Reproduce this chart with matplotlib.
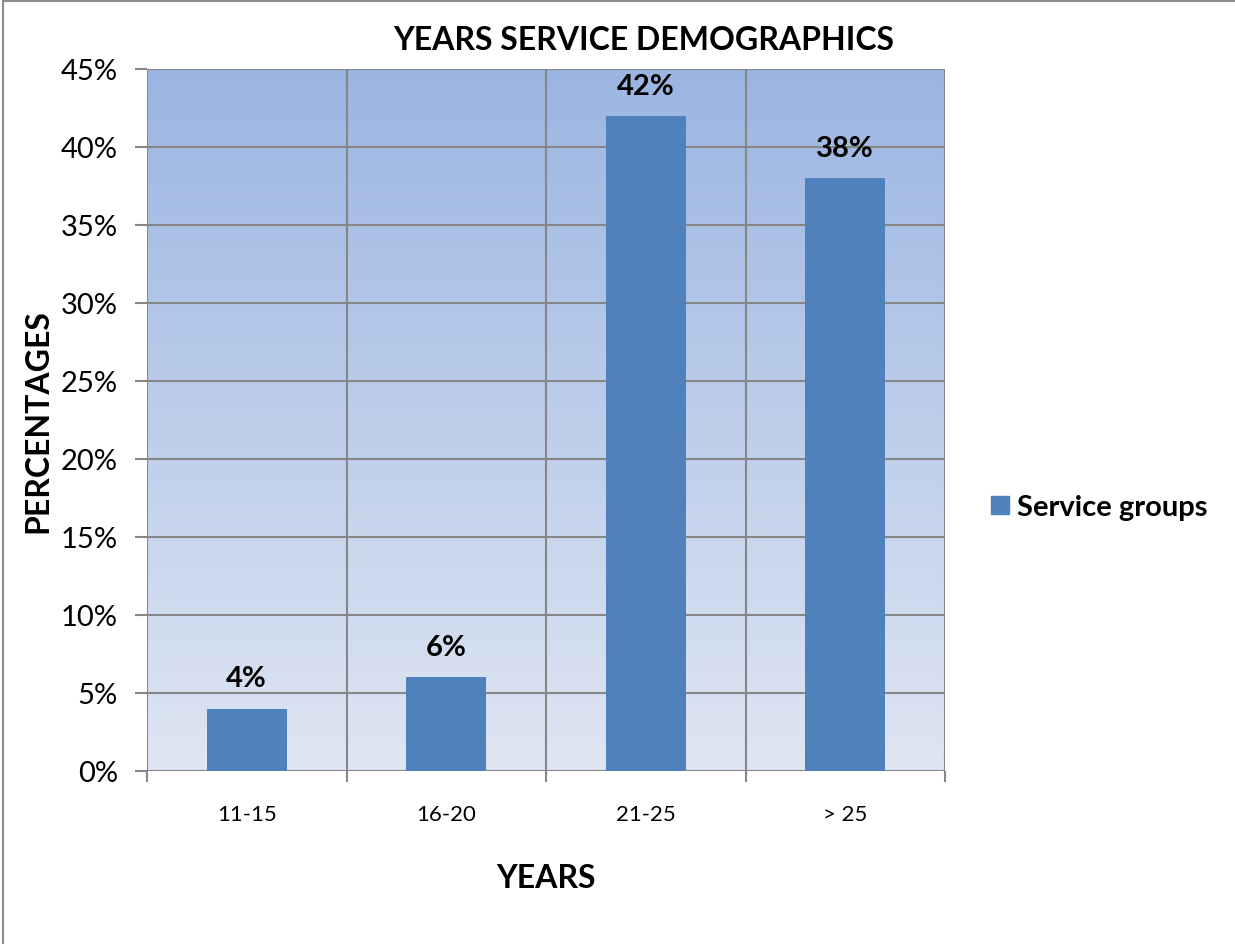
import numpy as np
import matplotlib.pyplot as plt
from matplotlib.colors import LinearSegmentedColormap
from matplotlib.lines import Line2D
from matplotlib.patches import Patch

plt.rcParams['font.family'] = ['Lato', 'DejaVu Sans']

categories = ['11-15', '16-20', '21-25', '> 25']
values = [4, 6, 42, 38]
yticks = [0, 5, 10, 15, 20, 25, 30, 35, 40, 45]

bar_color = '#4f81bd'
grid_color = '#868686'

fig = plt.figure(figsize=(12.35, 9.45), dpi=100)
ax = fig.add_axes([147 / 1235, 1 - 772 / 945, 798 / 1235, 702 / 945])

# gradient background of the plot area
cmap = LinearSegmentedColormap.from_list('bg', ['#dfe6f3', '#9bb5e2'])
grad = np.linspace(0, 1, 256).reshape(-1, 1)
ax.imshow(grad, aspect='auto', cmap=cmap, origin='lower',
          extent=[-0.5, len(categories) - 0.5, 0, 45], zorder=0)

x = np.arange(len(categories))
ax.bar(x, values, width=0.4, color=bar_color, zorder=3, label='Service groups')
for xi, v in zip(x, values):
    ax.text(xi, v + 1.1, '%d%%' % v, ha='center', va='bottom',
            fontsize=21, fontweight='bold', zorder=4)

ax.set_xlim(-0.5, len(categories) - 0.5)
ax.set_ylim(0, 45)
ax.set_yticks(yticks)
ax.set_yticklabels(['%d%%' % t for t in yticks], fontsize=21)
ax.tick_params(axis='y', length=9, width=1.5, color=grid_color, pad=12)

# category labels without ticks, ticks at boundaries
ax.set_xticks(x)
ax.set_xticklabels(categories, fontsize=16)
ax.tick_params(axis='x', length=0, pad=24)
ax.set_xticks(np.arange(len(categories) + 1) - 0.5, minor=True)
ax.tick_params(axis='x', which='minor', length=8, width=1.5, color=grid_color)

for t in yticks:
    ax.axhline(t, color=grid_color, lw=1.5, zorder=1)
for b in np.arange(len(categories) + 1) - 0.5:
    ax.axvline(b, color=grid_color, lw=1.5, zorder=1)
for s in ax.spines.values():
    s.set_visible(False)

fig.text(644 / 1235, 1 - 40 / 945, 'YEARS SERVICE DEMOGRAPHICS', ha='center',
         va='center', fontsize=23, fontweight='bold')
ax.set_xlabel('YEARS', fontsize=23, fontweight='bold', labelpad=28)
ax.set_ylabel('PERCENTAGES', fontsize=23, fontweight='bold', labelpad=6)

ax.legend(handles=[Patch(color=bar_color, label='Service groups')],
          loc='center left', bbox_to_anchor=(1.025, 0.376), frameon=False,
          prop={'size': 21, 'weight': 'bold'}, handlelength=0.6,
          handleheight=0.6, handletextpad=0.3)

# chart border (left and top visible)
fig.add_artist(Line2D([3 / 1235, 3 / 1235], [0, 1 - 2 / 945], color='#8c8c8c', lw=1.5))
fig.add_artist(Line2D([3 / 1235, 1], [1 - 2 / 945, 1 - 2 / 945], color='#8c8c8c', lw=1.5))

fig.savefig('out.png', dpi=100)
